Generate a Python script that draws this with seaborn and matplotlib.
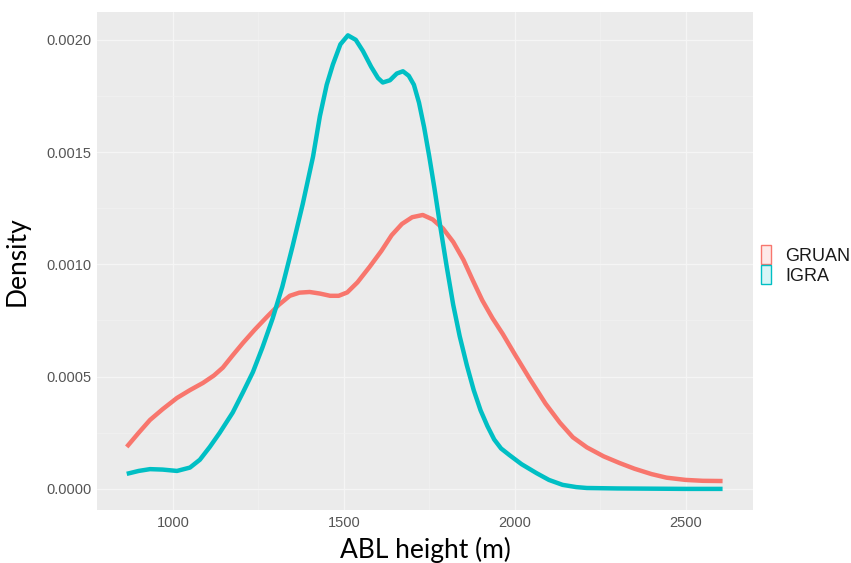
import numpy as np
import pandas as pd
import matplotlib
matplotlib.use("Agg")
import matplotlib.pyplot as plt
from matplotlib.patches import Patch
from matplotlib.ticker import MultipleLocator
import seaborn as sns

# ---- data ----
gruan_x = [865, 900, 933, 970, 1012, 1050, 1088, 1120, 1146, 1175, 1205, 1240,
           1275, 1310, 1342, 1370, 1400, 1430, 1460, 1485, 1510, 1540, 1576,
           1610, 1640, 1670, 1700, 1731, 1760, 1790, 1820, 1850, 1877, 1905,
           1935, 1965, 2000, 2044, 2090, 2132, 2170, 2211, 2260, 2307, 2350,
           2400, 2444, 2500, 2550, 2608]
gruan_y = [0.000187, 0.000250, 0.000307, 0.000355, 0.000405, 0.000440, 0.000472,
           0.000505, 0.000540, 0.000595, 0.000650, 0.000710, 0.000766, 0.000820,
           0.000860, 0.000874, 0.000877, 0.000870, 0.000860, 0.000860, 0.000875,
           0.000920, 0.000990, 0.001060, 0.001130, 0.001180, 0.001210, 0.001220,
           0.001200, 0.001160, 0.001100, 0.001020, 0.000930, 0.000840, 0.000760,
           0.000690, 0.000600, 0.000490, 0.000380, 0.000295, 0.000230, 0.000185,
           0.000145, 0.000115, 0.000090, 0.000066, 0.000050, 0.000040, 0.000036,
           0.000035]

igra_x = [865, 900, 933, 970, 1012, 1050, 1079, 1108, 1137, 1175, 1205, 1234,
          1262, 1292, 1320, 1350, 1380, 1410, 1430, 1450, 1468, 1490, 1512,
          1535, 1556, 1580, 1600, 1614, 1635, 1655, 1673, 1690, 1705, 1720,
          1735, 1750, 1765, 1781, 1801, 1820, 1839, 1860, 1880, 1900, 1920,
          1940, 1960, 1985, 2020, 2064, 2100, 2140, 2180, 2211, 2300, 2400,
          2500, 2608]
igra_y = [0.000067, 0.000080, 0.000088, 0.000086, 0.000080, 0.000095, 0.000130,
          0.000187, 0.000250, 0.000340, 0.000430, 0.000520, 0.000630, 0.000760,
          0.000900, 0.001080, 0.001270, 0.001480, 0.001660, 0.001800, 0.001890,
          0.001980, 0.002020, 0.002000, 0.001950, 0.001880, 0.001830, 0.001810,
          0.001820, 0.001850, 0.001860, 0.001840, 0.001800, 0.001720, 0.001610,
          0.001480, 0.001340, 0.001180, 0.000990, 0.000820, 0.000680, 0.000550,
          0.000440, 0.000350, 0.000280, 0.000220, 0.000180, 0.000150, 0.000110,
          0.000070, 0.000040, 0.000018, 0.000008, 0.000004, 0.000002, 0.000001,
          0.000000, 0.000000]

series_names = ["GRUAN", "IGRA"]
series_colors = ["#F8766D", "#00BFC4"]
x_ticks = [1000, 1500, 2000, 2500]
y_ticks = [0.0000, 0.0005, 0.0010, 0.0015, 0.0020]
y_tick_labels = ["0.0000", "0.0005", "0.0010", "0.0015", "0.0020"]

df = pd.concat([
    pd.DataFrame({"x": gruan_x, "density": gruan_y, "source": series_names[0]}),
    pd.DataFrame({"x": igra_x, "density": igra_y, "source": series_names[1]}),
], ignore_index=True)

sns.set_theme(style="darkgrid")
plt.rcParams["font.family"] = ["Liberation Sans", "DejaVu Sans"]

fig = plt.figure(figsize=(8.51, 5.63), dpi=100)
ax = fig.add_axes([97 / 851, 1 - 510 / 563, (753 - 97) / 851, (510 - 12) / 563])
ax.set_facecolor("#EBEBEB")

sns.lineplot(data=df, x="x", y="density", hue="source",
             palette=dict(zip(series_names, series_colors)),
             linewidth=3.2, ax=ax, legend=False, sort=False,
             solid_capstyle="butt", solid_joinstyle="round")

ax.set_xlim(778, 2697)
ax.set_ylim(-0.000094, 0.002124)
ax.set_xticks(x_ticks)
ax.set_xticklabels([str(v) for v in x_ticks])
ax.set_yticks(y_ticks)
ax.set_yticklabels(y_tick_labels)
ax.xaxis.set_minor_locator(MultipleLocator(250))
ax.yaxis.set_minor_locator(MultipleLocator(0.00025))
ax.grid(which="major", color="#F5F5F5", linewidth=0.9)
ax.grid(which="minor", color="#F1F1F1", linewidth=0.5)
ax.set_axisbelow(True)
for s in ax.spines.values():
    s.set_visible(False)
ax.tick_params(axis="both", which="major", labelsize=10.5, labelcolor="#555555",
               length=2, color="#DDDDDD", pad=2)
ax.tick_params(axis="both", which="minor", length=0)

ax.set_xlabel("ABL height (m)", fontsize=19, family=["Lato", "DejaVu Sans"],
              color="black", labelpad=5)
ax.set_ylabel("Density", fontsize=19, family=["Lato", "DejaVu Sans"],
              color="black", labelpad=12)

handles = [Patch(facecolor=matplotlib.colors.to_rgba(c, 0.15), edgecolor=c,
                 linewidth=1.0) for c in series_colors]
leg = fig.legend(handles, series_names, loc="center left",
                 bbox_to_anchor=(754 / 851, 1 - 265 / 563), frameon=False,
                 fontsize=13, handlelength=0.55, handleheight=1.2,
                 handletextpad=0.8, labelspacing=0.05, borderaxespad=0)
for t in leg.get_texts():
    t.set_color("#1A1A1A")

fig.savefig("out.png", dpi=100, facecolor="white")
